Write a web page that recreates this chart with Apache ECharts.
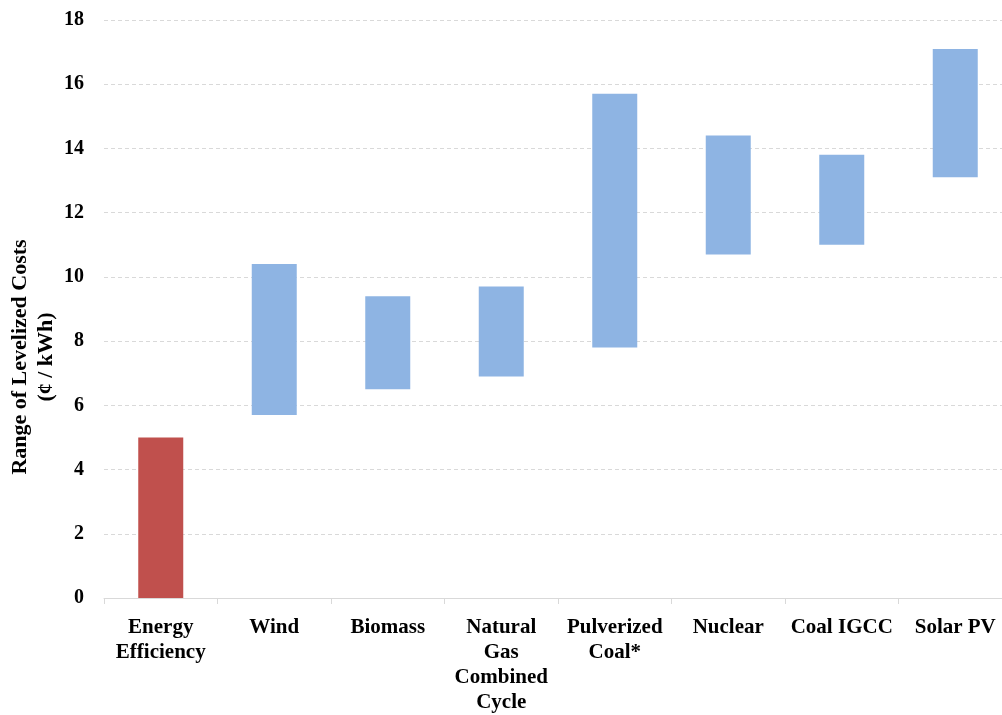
<!DOCTYPE html>
<html>
<head>
<meta charset="utf-8">
<script src="https://cdn.jsdelivr.net/npm/echarts@6/dist/echarts.min.js"></script>
<style>
html,body{margin:0;padding:0;background:#fff;}
#chart{width:1002px;height:715px;}
</style>
</head>
<body>
<div id="chart"></div>
<script>
var categories = ['Energy\nEfficiency', 'Wind', 'Biomass', 'Natural\nGas\nCombined\nCycle', 'Pulverized\nCoal*', 'Nuclear', 'Coal IGCC', 'Solar PV'];
var lowValues  = [0, 5.7, 6.5, 6.9, 7.8, 10.7, 11.0, 13.1];
var highValues = [5.0, 10.4, 9.4, 9.7, 15.7, 14.4, 13.8, 17.1];
var barColors  = ['#C0504D', '#8EB4E3', '#8EB4E3', '#8EB4E3', '#8EB4E3', '#8EB4E3', '#8EB4E3', '#8EB4E3'];
var yTicks = [0, 2, 4, 6, 8, 10, 12, 14, 16, 18];

var FONT = '"Palatino Linotype","Book Antiqua","Liberation Serif","DejaVu Serif",serif';
var rangeData = highValues.map(function (h, i) {
  return { value: +(h - lowValues[i]).toFixed(2), itemStyle: { color: barColors[i] } };
});

var chart = echarts.init(document.getElementById('chart'));
chart.setOption({
  animation: false,
  backgroundColor: '#ffffff',
  grid: { left: 104, right: -10, top: 20, bottom: 117, containLabel: false, outerBoundsMode: 'none' },
  xAxis: {
    type: 'category',
    data: categories,
    axisLine: { show: true, lineStyle: { color: '#D9D9D9', width: 1 } },
    axisTick: { show: true, alignWithLabel: false, length: 6, lineStyle: { color: '#D9D9D9' } },
    axisLabel: {
      interval: 0, margin: 17, color: '#000', fontFamily: FONT, fontWeight: 'bold',
      fontSize: 21, lineHeight: 25
    }
  },
  yAxis: {
    type: 'value', min: yTicks[0], max: yTicks[yTicks.length - 1], interval: 2,
    name: 'Range of Levelized Costs\n(¢ / kWh)',
    nameLocation: 'middle', nameGap: 45, nameRotate: 90, nameMoveOverlap: false,
    nameTextStyle: { color: '#000', fontFamily: FONT, fontWeight: 'bold', fontSize: 22, lineHeight: 26, padding: [0, 96, 0, 0] },
    axisLine: { show: false },
    axisTick: { show: false },
    axisLabel: { margin: 20, color: '#000', fontFamily: FONT, fontWeight: 'bold', fontSize: 20 },
    splitLine: { show: true, lineStyle: { color: '#D9D9D9', type: [4, 3], width: 1 } }
  },
  series: [
    {
      name: 'base', type: 'bar', stack: 'r', data: lowValues, barWidth: 45,
      itemStyle: { color: 'rgba(0,0,0,0)' }, silent: true
    },
    {
      name: 'range', type: 'bar', stack: 'r', data: rangeData, barWidth: 45
    }
  ]
});
</script>
</body>
</html>
